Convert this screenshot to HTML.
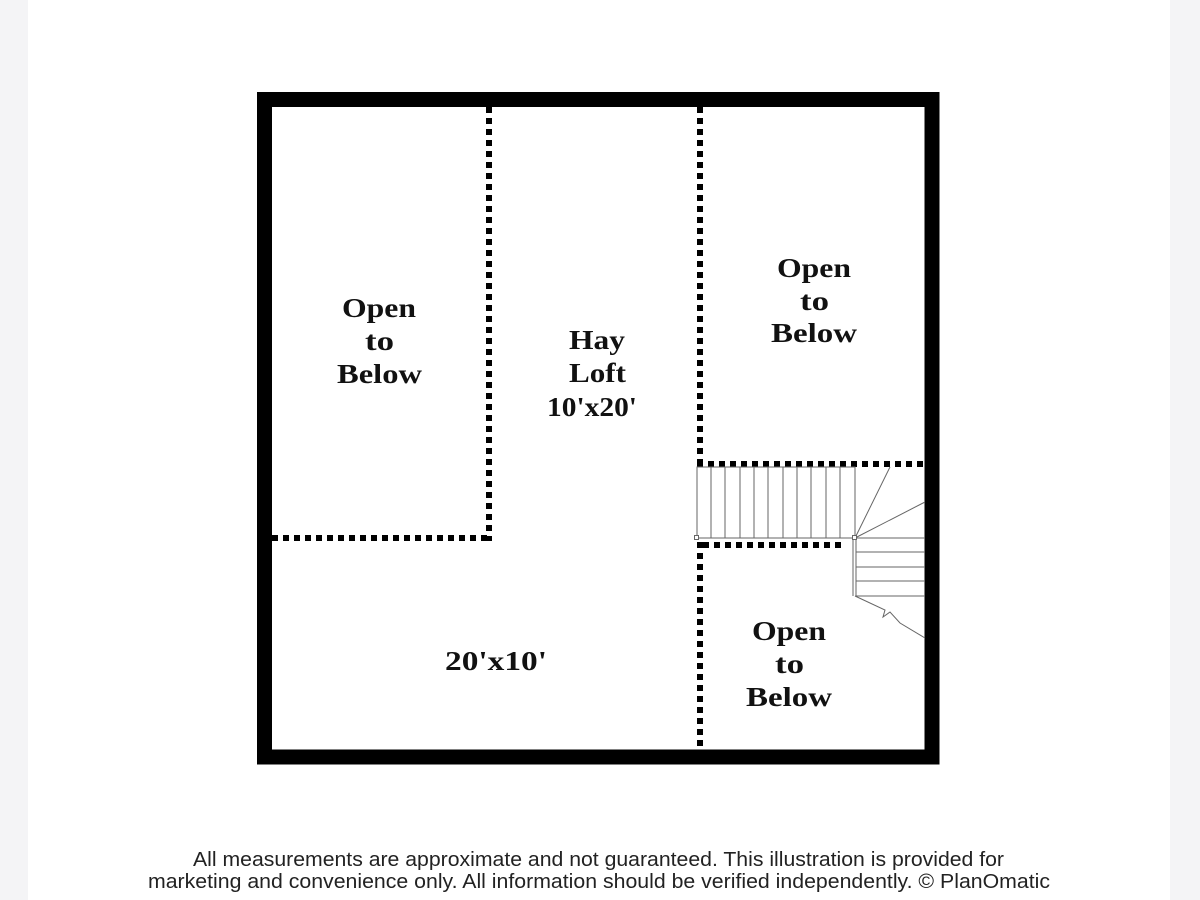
<!DOCTYPE html>
<html><head><style>
html,body{margin:0;padding:0;width:1200px;height:900px;overflow:hidden;background:#f4f4f6}
svg{display:block}
</style></head><body>
<svg width="1200" height="900" viewBox="0 0 1200 900" xmlns="http://www.w3.org/2000/svg">
<rect x="28" y="0" width="1142" height="900" fill="#fff"/>
<rect x="264.5" y="99.5" width="667.5" height="657.5" fill="none" stroke="#000" stroke-width="15"/>
<g stroke="#000" stroke-width="6" stroke-dasharray="6 5">
<line x1="489" y1="107" x2="489" y2="541"/>
<line x1="272" y1="538" x2="492" y2="538"/>
<line x1="700" y1="107" x2="700" y2="466"/>
<line x1="697" y1="464" x2="925" y2="464"/>
<line x1="700" y1="542" x2="700" y2="750"/>
<line x1="703" y1="545" x2="845" y2="545"/>
</g>
<g stroke="#666" stroke-width="1" fill="none">
<rect x="697" y="467" width="158" height="71"/>
<line x1="711" y1="467" x2="711" y2="538"/><line x1="725" y1="467" x2="725" y2="538"/>
<line x1="740" y1="467" x2="740" y2="538"/><line x1="754" y1="467" x2="754" y2="538"/>
<line x1="768" y1="467" x2="768" y2="538"/><line x1="783" y1="467" x2="783" y2="538"/>
<line x1="797" y1="467" x2="797" y2="538"/><line x1="811" y1="467" x2="811" y2="538"/>
<line x1="826" y1="467" x2="826" y2="538"/><line x1="840" y1="467" x2="840" y2="538"/>
<line x1="855" y1="538" x2="890" y2="467"/><line x1="855" y1="538" x2="925" y2="502"/>
<line x1="855" y1="538" x2="925" y2="538"/>
<line x1="853" y1="538" x2="853" y2="596"/><line x1="856" y1="538" x2="856" y2="596"/>
<line x1="856" y1="552" x2="925" y2="552"/><line x1="856" y1="567" x2="925" y2="567"/>
<line x1="856" y1="581" x2="925" y2="581"/><line x1="856" y1="596" x2="925" y2="596"/>
<polyline points="855,596 885,610 883,617 890,612 900,623 925,638"/>
</g>
<rect x="694.5" y="535.5" width="4" height="4" fill="#fff" stroke="#666"/>
<rect x="852.5" y="535.5" width="4" height="4" fill="#fff" stroke="#666"/>
<g font-family="Liberation Serif, serif" font-weight="bold" font-size="27" fill="#111" lengthAdjust="spacingAndGlyphs">
<text x="342" y="317" textLength="74" lengthAdjust="spacingAndGlyphs">Open</text>
<text x="365" y="350" textLength="29" lengthAdjust="spacingAndGlyphs">to</text>
<text x="337" y="383" textLength="85" lengthAdjust="spacingAndGlyphs">Below</text>
<text x="569" y="349" textLength="56" lengthAdjust="spacingAndGlyphs">Hay</text>
<text x="569" y="382" textLength="57" lengthAdjust="spacingAndGlyphs">Loft</text>
<text x="547" y="416" textLength="90" lengthAdjust="spacingAndGlyphs">10'x20'</text>
<text x="777" y="277" textLength="74" lengthAdjust="spacingAndGlyphs">Open</text>
<text x="800" y="310" textLength="29" lengthAdjust="spacingAndGlyphs">to</text>
<text x="771" y="342" textLength="86" lengthAdjust="spacingAndGlyphs">Below</text>
<text x="752" y="640" textLength="74" lengthAdjust="spacingAndGlyphs">Open</text>
<text x="775" y="673" textLength="29" lengthAdjust="spacingAndGlyphs">to</text>
<text x="746" y="706" textLength="86" lengthAdjust="spacingAndGlyphs">Below</text>
<text x="445" y="670" textLength="102" lengthAdjust="spacingAndGlyphs">20'x10'</text>
</g>
<g font-family="Liberation Sans, sans-serif" font-size="20" fill="#222">
<text x="193" y="866" textLength="811" lengthAdjust="spacingAndGlyphs">All measurements are approximate and not guaranteed. This illustration is provided for</text>
<text x="148" y="888" textLength="902" lengthAdjust="spacingAndGlyphs">marketing and convenience only. All information should be verified independently. © PlanOmatic</text>
</g>
</svg>
</body></html>
